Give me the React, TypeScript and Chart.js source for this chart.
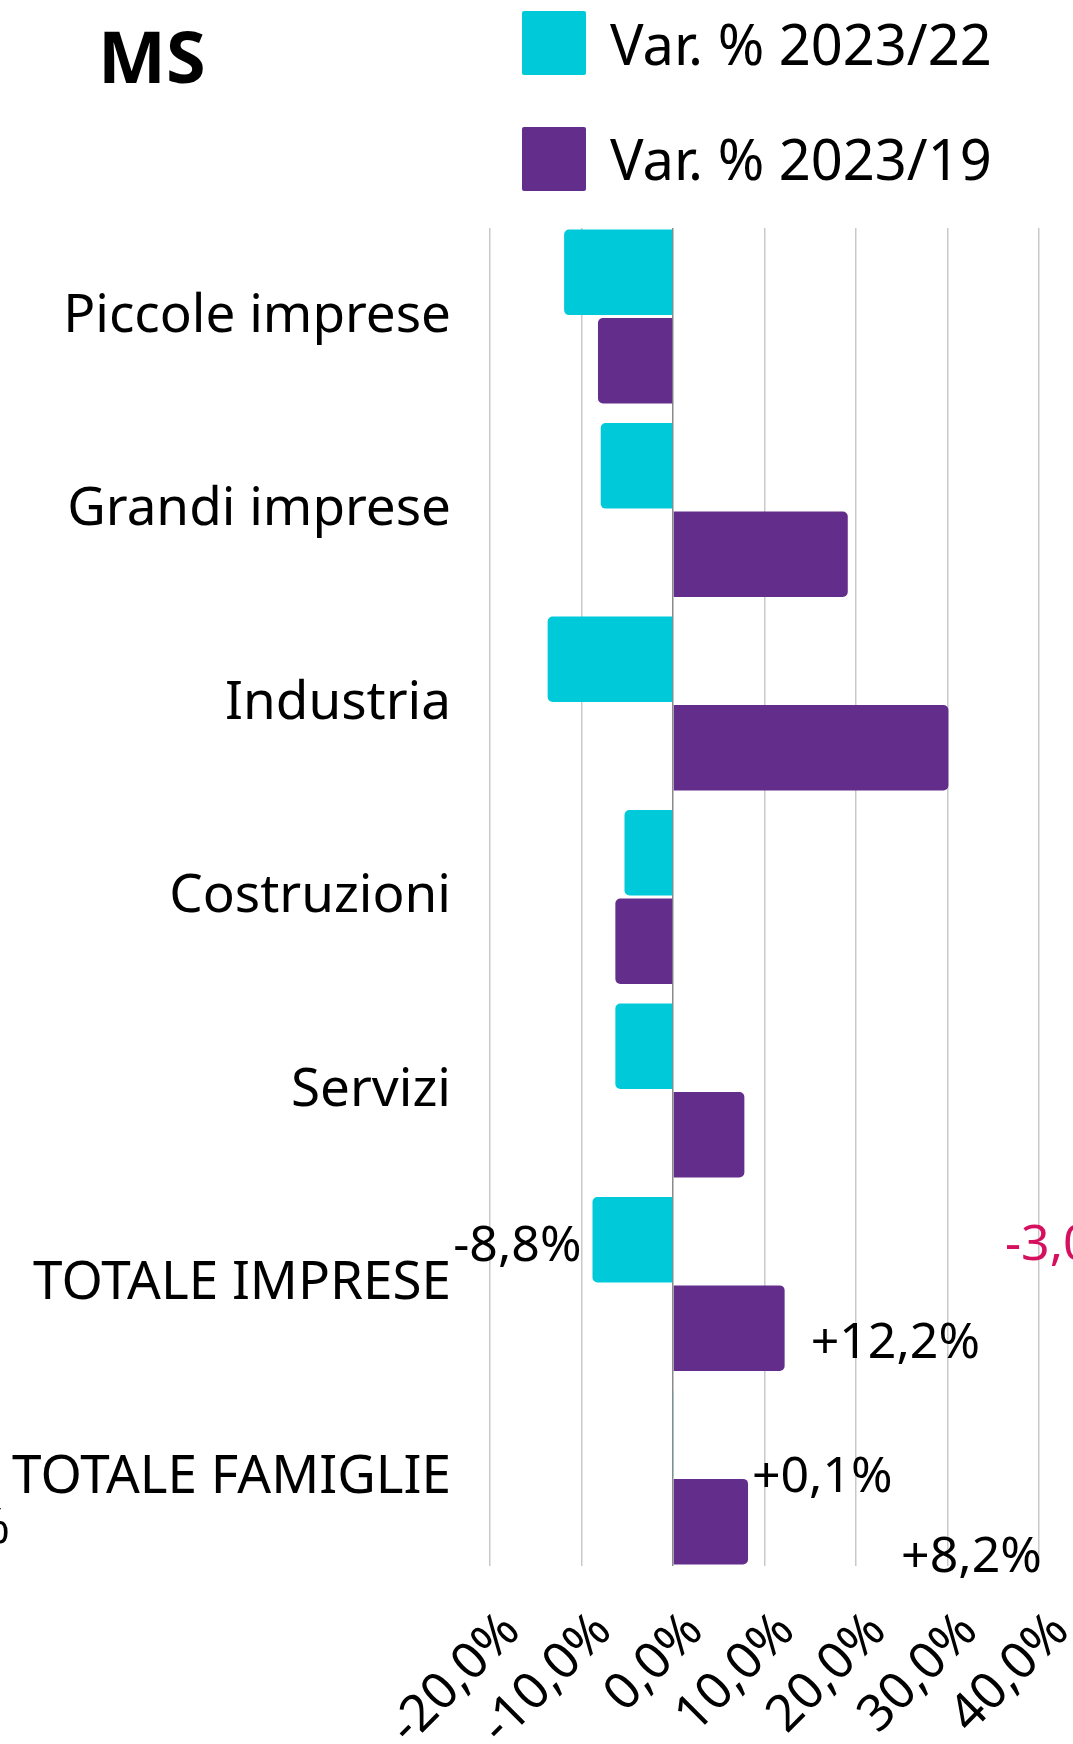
import React, { useEffect, useRef } from "react";
import { Chart, registerables } from "chart.js";

Chart.register(...registerables);

const TITLE = "MS";
const CATEGORIES = [
  "Piccole imprese",
  "Grandi imprese",
  "Industria",
  "Costruzioni",
  "Servizi",
  "TOTALE IMPRESE",
  "TOTALE FAMIGLIE",
];
const SERIES_NAMES = ["Var. % 2023/22", "Var. % 2023/19"];
const VAR_2023_22 = [-11.9, -7.9, -13.7, -5.3, -6.3, -8.8, 0.1];
const VAR_2023_19 = [-8.2, 19.1, 30.1, -6.3, 7.8, 12.2, 8.2];
const X_TICKS = [-20, -10, 0, 10, 20, 30, 40];
// which bars carry a value label: [datasetIndex, categoryIndex]
const LABELLED_BARS = [
  [0, 5],
  [1, 5],
  [0, 6],
  [1, 6],
];
const STRAY_LABEL = "-3,0%";

const CYAN = "#00C9DA";
const PURPLE = "#632D8B";
const PINK = "#D5105E";
const FONT = '"Noto Sans", sans-serif';
const Y_EDGE = 0.4574; // extra room above the first / below the last category

// label layout (offsets relative to the bar end / bar centre)
const LABEL_LAYOUT = [
  { align: "right", dx: -11, dy: 21 },
  { align: "left", dx: 26, dy: 30 },
  { align: "left", dx: 78, dy: 59 },
  { align: "left", dx: 153, dy: 50 },
];

const fmtTick = (v: number) => v.toFixed(1).replace(".", ",") + "%";
const fmtLabel = (v: number) => (v > 0 ? "+" : "") + v.toFixed(1).replace(".", ",") + "%";

const overlayPlugin = {
  id: "overlay",
  afterDraw(chart: any) {
    const ctx = chart.ctx;
    ctx.save();
    // title
    ctx.fillStyle = "#000";
    ctx.textAlign = "left";
    ctx.textBaseline = "alphabetic";
    ctx.font = `bold 72px ${FONT}`;
    ctx.fillText(TITLE, 98, 83);

    // legend
    const legendRows = [
      { boxY: 11, baseline: 65 },
      { boxY: 127, baseline: 180 },
    ];
    chart.data.datasets.forEach((ds: any, i: number) => {
      const r = legendRows[i];
      ctx.fillStyle = ds.backgroundColor;
      ctx.beginPath();
      ctx.roundRect(522, r.boxY, 64, 64, 2);
      ctx.fill();
      ctx.fillStyle = "#000";
      ctx.font = `56px ${FONT}`;
      ctx.textAlign = "left";
      ctx.fillText(ds.label, 610, r.baseline);
    });

    // value labels
    ctx.font = `50px ${FONT}`;
    LABELLED_BARS.forEach(([d, idx], k) => {
      const bar = chart.getDatasetMeta(d).data[idx];
      const value = chart.data.datasets[d].data[idx].x;
      const lay = LABEL_LAYOUT[k];
      ctx.fillStyle = "#000";
      ctx.textAlign = lay.align;
      ctx.fillText(fmtLabel(value), bar.x + lay.dx, bar.y + lay.dy);
    });

    // stray labels cut at the canvas edges
    ctx.fillStyle = PINK;
    ctx.textAlign = "left";
    ctx.fillText(STRAY_LABEL, 1005, 1260);
    ctx.fillStyle = "#000";
    ctx.textAlign = "right";
    ctx.fillText("%", 10, 1543);
    ctx.restore();
  },
};

export default function App() {
  const ref = useRef<HTMLCanvasElement | null>(null);
  useEffect(() => {
    document.body.style.margin = "0";
    const canvas = ref.current!;
    const chart = new Chart(canvas, {
      type: "bar",
      data: {
        datasets: [
          {
            label: SERIES_NAMES[0],
            data: VAR_2023_22.map((v, i) => ({ x: v, y: i })),
            backgroundColor: CYAN,
            borderRadius: 5,
            borderSkipped: "start",
          },
          {
            label: SERIES_NAMES[1],
            data: VAR_2023_19.map((v, i) => ({ x: v, y: i })),
            backgroundColor: PURPLE,
            borderRadius: 5,
            borderSkipped: "start",
          },
        ] as any,
      },
      options: {
        indexAxis: "y",
        animation: false,
        responsive: false,
        devicePixelRatio: 1,
        categoryPercentage: 0.9137,
        barPercentage: 0.968,
        layout: { padding: { left: 0, right: 34, top: 228, bottom: 0 } },
        plugins: {
          legend: { display: false },
          tooltip: { enabled: false },
        },
        scales: {
          x: {
            type: "linear",
            bounds: "data",
            min: X_TICKS[0],
            max: X_TICKS[X_TICKS.length - 1],
            afterBuildTicks: (scale: any) => {
              scale.ticks = X_TICKS.map((v) => ({ value: v }));
              scale.min = X_TICKS[0];
              scale.max = X_TICKS[X_TICKS.length - 1];
            },
            afterFit: (scale: any) => {
              scale.height = 178;
              scale.paddingLeft = 0;
              scale.paddingRight = 0;
            },
            ticks: {
              autoSkip: false,
              minRotation: 45,
              maxRotation: 45,
              padding: 35,
              labelOffset: 22,
              color: "#000",
              font: { family: FONT, size: 51 },
              callback: (v: any) => fmtTick(Number(v)),
            },
            grid: {
              drawTicks: false,
              lineWidth: 1.5,
              color: (c: any) => (c.tick && c.tick.value === 0 ? "#8a8a8a" : "#c9c9c9"),
            },
            border: { display: false },
          },
          y: {
            type: "linear",
            offset: false,
            bounds: "data",
            grace: 0,
            reverse: true,
            min: -Y_EDGE,
            max: CATEGORIES.length - 1 + Y_EDGE,
            afterBuildTicks: (scale: any) => {
              scale.ticks = CATEGORIES.map((_, i) => ({ value: i }));
              scale.min = -Y_EDGE;
              scale.max = CATEGORIES.length - 1 + Y_EDGE;
            },
            afterFit: (scale: any) => {
              scale.width = 490;
              scale.paddingTop = 0;
              scale.paddingBottom = 0;
            },
            ticks: {
              autoSkip: false,
              stepSize: 1,
              padding: 39,
              color: "#000",
              font: { family: FONT, size: 53 },
              callback: (v: any) => CATEGORIES[Number(v)] ?? "",
            },
            grid: { display: false, drawTicks: false, offset: false },
            border: { display: false },
          },
        },
      } as any,
      plugins: [overlayPlugin],
    });
    return () => chart.destroy();
  }, []);
  return (
    <div style={{ width: 1073, height: 1744 }}>
      <canvas ref={ref} width={1073} height={1744} style={{ display: "block" }} />
    </div>
  );
}
